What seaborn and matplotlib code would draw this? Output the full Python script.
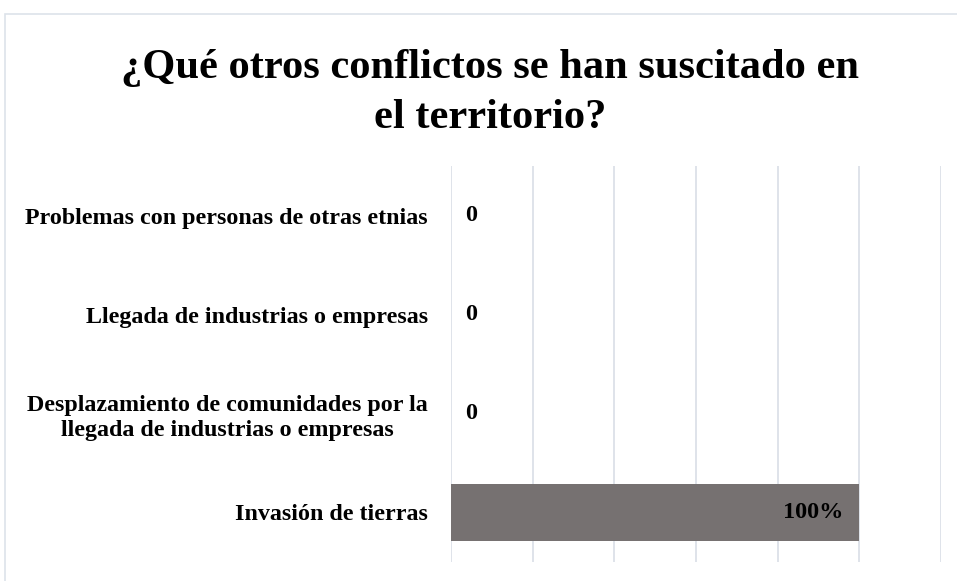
import matplotlib
matplotlib.use("Agg")
import matplotlib.pyplot as plt
import seaborn as sns
import pandas as pd
from matplotlib.patches import Rectangle

categories = [
    "Problemas con personas de otras etnias",
    "Llegada de industrias o empresas",
    "Desplazamiento de comunidades por la\nllegada de industrias o empresas",
    "Invasión de tierras",
]
values = [0, 0, 0, 100]
value_labels = ["0", "0", "0", "100%"]
title = "¿Qué otros conflictos se han suscitado en\nel territorio?"

sns.set_theme(style="white")
plt.rcParams["font.family"] = ["Liberation Serif", "DejaVu Serif"]
plt.rcParams["text.color"] = "black"

W, H = 957, 581
fig = plt.figure(figsize=(W / 100, H / 100), dpi=100)
ax = fig.add_axes([451 / W, 1 - 562 / H, (941 - 451) / W, (562 - 166) / H])

df = pd.DataFrame({"cat": categories, "val": values})
sns.barplot(data=df, x="val", y="cat", color="#767171", saturation=1,
            width=0.58, ax=ax, orient="h", linewidth=0)

ax.set_xlim(0, 120)
ax.set_ylim(3.5, -0.5)
ax.set_xticks(range(0, 121, 20))
ax.grid(axis="x", color="#d9dee6", linewidth=1.2)
ax.set_axisbelow(True)
ax.tick_params(axis="x", length=0, labelbottom=False)
ax.tick_params(axis="y", length=0, pad=16.5)
for s in ax.spines.values():
    s.set_visible(False)
ax.set_xlabel("")
ax.set_ylabel("")
ax.set_yticks(range(len(categories)))
ax.set_yticklabels(categories, fontsize=17.3, fontweight="bold", color="black",
                   multialignment="center", linespacing=1.25)

for i, (v, t) in enumerate(zip(values, value_labels)):
    if v == 0:
        ax.text(v + 3.5, i, t, ha="left", va="center", fontsize=17.5,
                fontweight="bold", color="black")
    else:
        ax.text(v - 4, i, t, ha="right", va="center", fontsize=17.5,
                fontweight="bold", color="black")

fig.text(490 / W, 1 - 93 / H, title, ha="center", va="center",
         fontsize=30.6, fontweight="bold", linespacing=1.42, color="black")

fig.patches.append(Rectangle((5 / W, -0.1), 1.2, 1 - 14 / H + 0.1,
                             transform=fig.transFigure, fill=False,
                             edgecolor="#dde3ea", linewidth=1.2))

fig.savefig("out.png", dpi=100)
